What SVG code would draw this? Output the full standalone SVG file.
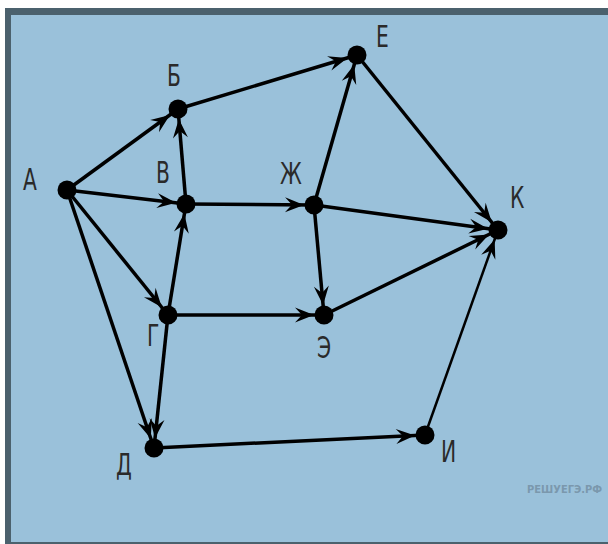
<svg xmlns="http://www.w3.org/2000/svg" width="608" height="544" viewBox="0 0 608 544">
<style>
.edge{stroke:#000;stroke-width:3.5;fill:none;marker-end:url(#arr)}
.thin{stroke-width:2.5}
.node{fill:#000}
.lbl{font-family:"DejaVu Sans Condensed","DejaVu Sans",sans-serif;font-size:30px;fill:#2a2a2a}
.wm{font-family:"DejaVu Sans Condensed","DejaVu Sans",sans-serif;font-size:11px;fill:#7b98ad;font-weight:bold}
</style>
<defs>
<marker id="arr" markerUnits="userSpaceOnUse" orient="auto" refX="10" refY="0" markerWidth="40" markerHeight="40" viewBox="-25 -12 40 24" overflow="visible">
<path d="M0,0 L-19,-7.5 L-12,0 L-19,7.5 Z" fill="#000"/>
</marker>
</defs>
<rect x="0" y="0" width="608" height="544" fill="#ffffff"/>
<rect x="5" y="8" width="603" height="536" fill="#4b616d"/>
<rect x="11" y="15" width="597" height="527" fill="#9ac1da"/>
<g id="connectors">
<line class="edge" x1="67" y1="190" x2="178" y2="109"/>
<line class="edge" x1="67" y1="190" x2="186" y2="204"/>
<line class="edge" x1="67" y1="190" x2="168" y2="315"/>
<line class="edge" x1="67" y1="190" x2="154" y2="448"/>
<line class="edge" x1="178" y1="109" x2="357" y2="55"/>
<line class="edge" x1="186" y1="204" x2="178" y2="109"/>
<line class="edge" x1="186" y1="204" x2="314" y2="205"/>
<line class="edge" x1="168" y1="315" x2="186" y2="204"/>
<line class="edge" x1="168" y1="315" x2="324" y2="315"/>
<line class="edge" x1="168" y1="315" x2="154" y2="448"/>
<line class="edge" x1="314" y1="205" x2="357" y2="55"/>
<line class="edge" x1="314" y1="205" x2="498" y2="230"/>
<line class="edge" x1="314" y1="205" x2="324" y2="315"/>
<line class="edge" x1="357" y1="55" x2="498" y2="230"/>
<line class="edge" x1="324" y1="315" x2="498" y2="230"/>
<line class="edge" x1="154" y1="448" x2="425" y2="435"/>
<line class="edge thin" x1="425" y1="435" x2="498" y2="230"/>
</g>
<g id="node-A"><circle class="node" cx="67" cy="190" r="9.5"/><text class="lbl" transform="translate(23,190) scale(0.75,1)">А</text></g>
<g id="node-B"><circle class="node" cx="178" cy="109" r="9.5"/><text class="lbl" transform="translate(167,86) scale(0.75,1)">Б</text></g>
<g id="node-V"><circle class="node" cx="186" cy="204" r="9.5"/><text class="lbl" transform="translate(156,183) scale(0.75,1)">В</text></g>
<g id="node-Zh"><circle class="node" cx="314" cy="205" r="9.5"/><text class="lbl" transform="translate(280,184) scale(0.75,1)">Ж</text></g>
<g id="node-E"><circle class="node" cx="357" cy="55" r="9.5"/><text class="lbl" transform="translate(376,47) scale(0.75,1)">Е</text></g>
<g id="node-K"><circle class="node" cx="498" cy="230" r="9.5"/><text class="lbl" transform="translate(510,208) scale(0.75,1)">К</text></g>
<g id="node-G"><circle class="node" cx="168" cy="315" r="9.5"/><text class="lbl" transform="translate(147,346) scale(0.75,1)">Г</text></g>
<g id="node-Ee"><circle class="node" cx="324" cy="315" r="9.5"/><text class="lbl" transform="translate(317,358) scale(0.75,1)">Э</text></g>
<g id="node-D"><circle class="node" cx="154" cy="448" r="9.5"/><text class="lbl" transform="translate(116,475) scale(0.75,1)">Д</text></g>
<g id="node-I"><circle class="node" cx="425" cy="435" r="9.5"/><text class="lbl" transform="translate(441,462) scale(0.75,1)">И</text></g>
<text class="wm" x="527" y="493">РЕШУЕГЭ.РФ</text>
</svg>
